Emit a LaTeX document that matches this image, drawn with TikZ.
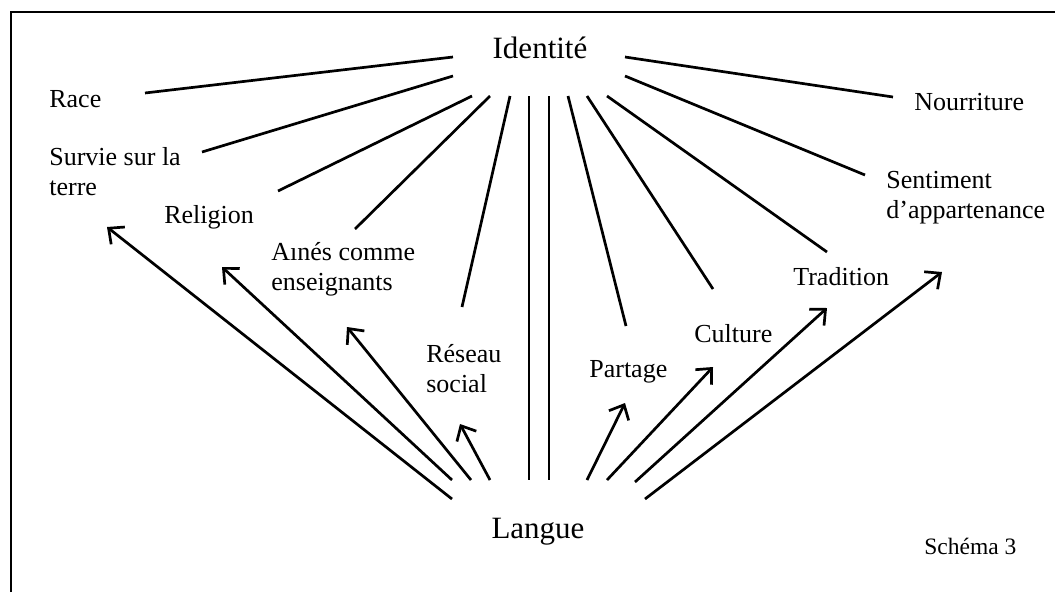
\documentclass[tikz,border=0pt]{standalone}
\usepackage{fontspec}
\setmainfont{Liberation Serif}
\usetikzlibrary{arrows.meta}

\begin{document}
\begin{tikzpicture}[x=1pt, y=-1pt, line width=2.7pt,
    lbl/.style={anchor=base west, inner sep=0pt, align=left,
                font=\fontsize{26}{30}\selectfont},
    big/.style={anchor=base, inner sep=0pt, font=\fontsize{31}{36}\selectfont},
    barb/.style={-{Straight Barb[length=12pt,width=22pt]}}]
      \useasboundingbox (0,0) rectangle (1055,592);
      \draw[line width=2pt] (11,592) -- (11,12) -- (1055,12);

      \node[big] (Id) at (540,58)  {Identité};
      \node[big] (La) at (538,538) {Langue};

      \node[lbl] (Race)  at (48,107)  {Race};
      \node[lbl] (Surv)  at (48,195)  {Survie sur la\\terre};
      \node[lbl] (Relig) at (163,223) {Religion};
      \node[lbl] (Aines) at (270,290) {Aınés comme\\enseignants};
      \node[lbl] (Res)   at (425,392) {Réseau\\social};
      \node[lbl] (Part)  at (588,377) {Partage};
      \node[lbl] (Cult)  at (693,342) {Culture};
      \node[lbl] (Trad)  at (792,285) {Tradition};
      \node[lbl] (Sent)  at (885,218) {Sentiment\\d'appartenance};
      \node[lbl] (Nour)  at (913,110) {Nourriture};
      \node[lbl, font=\fontsize{23.5}{28}\selectfont] (Sch) at (923,554) {Schéma 3};

      % Identite -- les termes
      \path ([shift={(-87,-1)}]Id.base) edge ([shift={(97,-14)}]Race.base west)
            ([shift={(-87,18)}]Id.base) edge ([shift={(154,-43)}]Surv.base west)
            ([shift={(-68,38)}]Id.base) edge ([shift={(115,-32)}]Relig.base west)
            ([shift={(-50,38)}]Id.base) edge ([shift={(85,-61)}]Aines.base west)
            ([shift={(-30,38)}]Id.base) edge ([shift={(37,-85)}]Res.base west)
            ([shift={(-11,38)}]Id.base) edge ([shift={(-9,-58)}]La.base)
            ([shift={(9,38)}]Id.base)   edge ([shift={(11,-58)}]La.base)
            ([shift={(28,38)}]Id.base)  edge ([shift={(38,-51)}]Part.base west)
            ([shift={(47,38)}]Id.base)  edge ([shift={(20,-53)}]Cult.base west)
            ([shift={(67,38)}]Id.base)  edge ([shift={(35,-33)}]Trad.base west)
            ([shift={(85,18)}]Id.base)  edge ([shift={(-20,-43)}]Sent.base west)
            ([shift={(85,-1)}]Id.base)  edge ([shift={(-20,-13)}]Nour.base west)
      ;

      % Langue -> les termes
      \path[barb] ([shift={(-86,-39)}]La.base) edge ([shift={(59,32)}]Surv.base west)
                  ([shift={(-86,-58)}]La.base) edge ([shift={(59,44)}]Relig.base west)
                  ([shift={(-67,-58)}]La.base) edge ([shift={(77,37)}]Aines.base west)
                  ([shift={(-48,-58)}]La.base) edge ([shift={(35,32)}]Res.base west)
                  ([shift={(49,-58)}]La.base)  edge ([shift={(37,26)}]Part.base west)
                  ([shift={(69,-58)}]La.base)  edge ([shift={(20,25)}]Cult.base west)
                  ([shift={(97,-56)}]La.base)  edge ([shift={(35,23)}]Trad.base west)
                  ([shift={(107,-39)}]La.base) edge ([shift={(57,54)}]Sent.base west)
      ;
    \end{tikzpicture}
\end{document}
